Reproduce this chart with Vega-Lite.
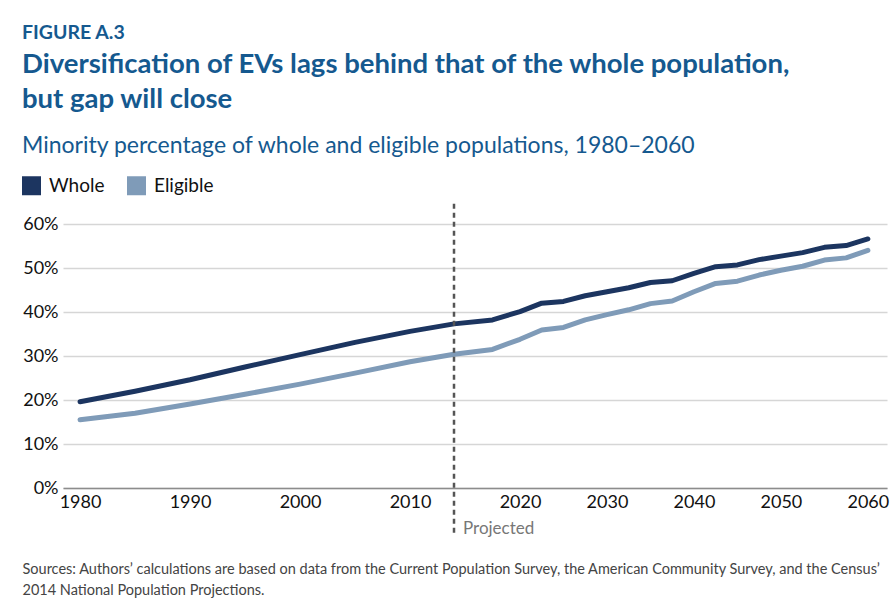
{
  "$schema": "https://vega.github.io/schema/vega-lite/v6.json",
  "width": 824,
  "height": 264,
  "autosize": {"type": "none"},
  "padding": {"left": 63, "top": 224, "right": 6, "bottom": 122},
  "background": "white",
  "config": {"view": {"stroke": null}, "font": "Lato"},
  "title": {
    "text": "FIGURE A.3",
    "subtitle": ["Diversification of EVs lags behind that of the whole population,", "but gap will close"],
    "anchor": "start",
    "frame": "group",
    "dx": -41,
    "offset": 21,
    "font": "Lato",
    "fontSize": 19.5,
    "fontWeight": "bold",
    "color": "#15598f",
    "subtitleFont": "Lato",
    "subtitleFontSize": 27.5,
    "subtitleFontWeight": "bold",
    "subtitleColor": "#15598f",
    "subtitleLineHeight": 35,
    "subtitlePadding": 7
  },
  "datasets": {
    "pop": [
      {"year": 1980, "series": "Whole", "pct": 19.6},
      {"year": 1985, "series": "Whole", "pct": 22.0},
      {"year": 1990, "series": "Whole", "pct": 24.6},
      {"year": 1995, "series": "Whole", "pct": 27.5},
      {"year": 2000, "series": "Whole", "pct": 30.3},
      {"year": 2005, "series": "Whole", "pct": 33.1},
      {"year": 2010, "series": "Whole", "pct": 35.6},
      {"year": 2014, "series": "Whole", "pct": 37.3},
      {"year": 2017.5, "series": "Whole", "pct": 38.2},
      {"year": 2020, "series": "Whole", "pct": 40.1},
      {"year": 2022.5, "series": "Whole", "pct": 42.0},
      {"year": 2025, "series": "Whole", "pct": 42.4},
      {"year": 2027.5, "series": "Whole", "pct": 43.7},
      {"year": 2030, "series": "Whole", "pct": 44.6},
      {"year": 2032.5, "series": "Whole", "pct": 45.5},
      {"year": 2035, "series": "Whole", "pct": 46.7},
      {"year": 2037.5, "series": "Whole", "pct": 47.1},
      {"year": 2040, "series": "Whole", "pct": 48.8},
      {"year": 2042.5, "series": "Whole", "pct": 50.3},
      {"year": 2045, "series": "Whole", "pct": 50.7},
      {"year": 2047.5, "series": "Whole", "pct": 51.9},
      {"year": 2050, "series": "Whole", "pct": 52.7},
      {"year": 2052.5, "series": "Whole", "pct": 53.5},
      {"year": 2055, "series": "Whole", "pct": 54.7},
      {"year": 2057.5, "series": "Whole", "pct": 55.1},
      {"year": 2060, "series": "Whole", "pct": 56.6},
      {"year": 1980, "series": "Eligible", "pct": 15.5},
      {"year": 1985, "series": "Eligible", "pct": 17.0},
      {"year": 1990, "series": "Eligible", "pct": 19.1},
      {"year": 1995, "series": "Eligible", "pct": 21.3},
      {"year": 2000, "series": "Eligible", "pct": 23.6},
      {"year": 2005, "series": "Eligible", "pct": 26.1},
      {"year": 2010, "series": "Eligible", "pct": 28.7},
      {"year": 2014, "series": "Eligible", "pct": 30.4},
      {"year": 2017.5, "series": "Eligible", "pct": 31.5},
      {"year": 2020, "series": "Eligible", "pct": 33.8},
      {"year": 2022.5, "series": "Eligible", "pct": 35.9},
      {"year": 2025, "series": "Eligible", "pct": 36.5},
      {"year": 2027.5, "series": "Eligible", "pct": 38.2},
      {"year": 2030, "series": "Eligible", "pct": 39.4},
      {"year": 2032.5, "series": "Eligible", "pct": 40.5},
      {"year": 2035, "series": "Eligible", "pct": 41.9},
      {"year": 2037.5, "series": "Eligible", "pct": 42.5},
      {"year": 2040, "series": "Eligible", "pct": 44.6},
      {"year": 2042.5, "series": "Eligible", "pct": 46.5},
      {"year": 2045, "series": "Eligible", "pct": 47.0},
      {"year": 2047.5, "series": "Eligible", "pct": 48.4},
      {"year": 2050, "series": "Eligible", "pct": 49.5},
      {"year": 2052.5, "series": "Eligible", "pct": 50.4},
      {"year": 2055, "series": "Eligible", "pct": 51.8},
      {"year": 2057.5, "series": "Eligible", "pct": 52.3},
      {"year": 2060, "series": "Eligible", "pct": 54.0}
    ],
    "marker": [{"label": "Projected"}]
  },
  "layer": [
    {
      "data": {"name": "pop"},
      "mark": {"type": "line", "strokeWidth": 5, "strokeCap": "round", "strokeJoin": "round"},
      "encoding": {
        "x": {
          "field": "year",
          "type": "quantitative",
          "scale": {"domain": [1978.45, 2020, 2062.2], "range": [0, 457, 824], "nice": false, "zero": false},
          "axis": {
            "values": [1980, 1990, 2000, 2010, 2020, 2030, 2040, 2050, 2060],
            "format": "d",
            "grid": false,
            "ticks": false,
            "domain": true,
            "domainColor": "#8c8c8c",
            "domainWidth": 1.5,
            "labelFont": "Lato",
            "labelFontSize": 18,
            "labelColor": "#111111",
            "labelPadding": 5,
            "title": ["Sources: Authors’ calculations are based on data from the Current Population Survey, the American Community Survey, and the Census’", "2014 National Population Projections."],
            "titleFont": "Lato",
            "titleFontSize": 14.5,
            "titleFontWeight": "normal",
            "titleColor": "#444444",
            "titleAnchor": "start",
            "titleAlign": "left",
            "titleBaseline": "alphabetic",
            "titleLineHeight": 21,
            "titleX": -41,
            "titleY": 85
          }
        },
        "y": {
          "field": "pct",
          "type": "quantitative",
          "scale": {"domain": [0, 60], "nice": false, "zero": true},
          "axis": {
            "values": [0, 10, 20, 30, 40, 50, 60],
            "labelExpr": "datum.value + '%'",
            "domain": false,
            "ticks": false,
            "grid": true,
            "gridColor": "#d6d6d6",
            "gridWidth": 1.5,
            "labelFont": "Lato",
            "labelFontSize": 18,
            "labelColor": "#111111",
            "labelPadding": 5,
            "title": null
          }
        },
        "color": {
          "field": "series",
          "type": "nominal",
          "scale": {"domain": ["Whole", "Eligible"], "range": ["#1c3560", "#7f9bb8"]},
          "legend": {
            "orient": "none",
            "legendX": -41,
            "legendY": -89,
            "direction": "horizontal",
            "title": "Minority percentage of whole and eligible populations, 1980–2060",
            "titleFont": "Lato",
            "titleFontSize": 23,
            "titleFontWeight": "normal",
            "titleColor": "#15598f",
            "titlePadding": 18,
            "titleLimit": 800,
            "symbolType": "square",
            "symbolSize": 361,
            "symbolStrokeWidth": 0,
            "labelFont": "Lato",
            "labelFontSize": 19,
            "labelColor": "#111111",
            "labelOffset": 8,
            "columnPadding": 22,
            "encode": {"symbols": {"update": {"fill": {"scale": "color", "field": "value"}, "opacity": {"value": 1}}}}
          }
        }
      }
    },
    {
      "data": {"name": "marker"},
      "mark": {"type": "rule", "color": "#555555", "strokeWidth": 2.5, "strokeDash": [5, 4]},
      "encoding": {
        "x": {"datum": 2014, "type": "quantitative"},
        "y": {"datum": 64.6, "type": "quantitative"},
        "y2": {"datum": -10.2}
      }
    },
    {
      "data": {"name": "marker"},
      "mark": {"type": "text", "align": "left", "baseline": "middle", "dx": 9, "dy": 41, "font": "Lato", "fontSize": 17, "color": "#777777"},
      "encoding": {
        "text": {"field": "label"},
        "x": {"datum": 2014, "type": "quantitative"},
        "y": {"datum": 0, "type": "quantitative"}
      }
    }
  ]
}
